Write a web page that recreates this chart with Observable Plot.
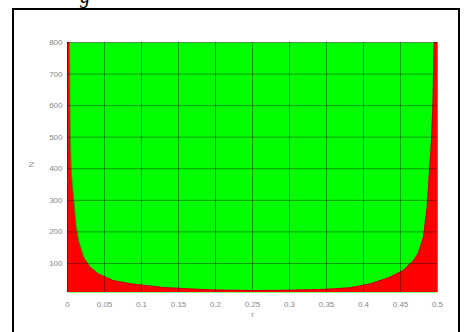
<!DOCTYPE html>
<html>
<head>
<meta charset="utf-8">
<script src="https://cdn.jsdelivr.net/npm/d3@7"></script>
<script src="https://cdn.jsdelivr.net/npm/@observablehq/plot@0.6"></script>
<style>
  html, body { margin: 0; padding: 0; background: #fff; }
  #wrap { position: relative; width: 467px; height: 332px; overflow: hidden; background: #fff; }
  #frame { position: absolute; left: 12px; top: 8px; width: 448px; height: 340px; border: 2px solid #000; box-sizing: border-box; }
  #cap { position: absolute; left: 80px; top: -15px; font: italic 20px "Liberation Serif", serif; color: #000; }
  #chart { position: absolute; left: 0; top: 0; }
</style>
</head>
<body>
<div id="wrap">
  <div id="cap">g</div>
  <div id="frame"></div>
  <div id="chart"></div>
</div>
<script>
const rValues = [0, 0.0027, 0.0035, 0.004, 0.0054, 0.0075, 0.0095, 0.012, 0.015, 0.022, 0.031, 0.042, 0.062, 0.085, 0.13, 0.176, 0.2, 0.25, 0.3, 0.35, 0.382, 0.409, 0.436, 0.454, 0.468, 0.474, 0.481, 0.486, 0.489, 0.492, 0.494, 0.4955, 0.5];
const nValues = [800, 800, 600, 490, 384, 330, 278, 215, 173, 120, 88, 67, 46, 36, 24, 18, 16, 14, 15, 18, 23, 35, 56, 78, 109, 131, 182, 277, 385, 490, 620, 800, 800];
const xTicks = [0, 0.05, 0.1, 0.15, 0.2, 0.25, 0.3, 0.35, 0.4, 0.45, 0.5];
const xTickLabels = ["0", "0.05", "0.1", "0.15", "0.2", "0.25", "0.3", "0.35", "0.4", "0.45", "0.5"];
const yTicks = [100, 200, 300, 400, 500, 600, 700, 800];
const xLabel = "r";
const yLabel = "N";

const data = rValues.map((r, i) => ({r, n: nValues[i]}));

const chart = Plot.plot({
  width: 467,
  height: 332,
  marginLeft: 67,
  marginRight: 30,
  marginTop: 42,
  marginBottom: 40,
  style: {background: "transparent", fontFamily: "Liberation Sans, Arial, sans-serif"},
  x: {domain: [0, 0.5]},
  y: {domain: [8, 800]},
  marks: [
    Plot.frame({fill: "#00ff00", stroke: "none"}),
    Plot.areaY(data, {x: "r", y: "n", fill: "#ff0000", clip: true, curve: "linear"}),
    Plot.lineY(data, {x: "r", y: "n", stroke: "#500", strokeOpacity: 0.35, strokeWidth: 1, clip: true}),
    Plot.ruleX(xTicks, {stroke: "#000", strokeOpacity: 0.4, strokeWidth: 1}),
    Plot.ruleY(yTicks, {stroke: "#000", strokeOpacity: 0.4, strokeWidth: 1}),
    Plot.axisX(xTicks, {tickSize: 0, tickPadding: 9, tickFormat: (d, i) => xTickLabels[i], fill: "#888", fontSize: 8, label: null}),
    Plot.axisY(yTicks, {tickSize: 0, tickPadding: 5, fill: "#888", fontSize: 8, label: null}),
    Plot.text([xLabel], {frameAnchor: "bottom", dy: 24, fill: "#888", fontSize: 8}),
    Plot.text([yLabel], {frameAnchor: "left", dx: -36, rotate: -90, fill: "#888", fontSize: 8})
  ]
});
document.getElementById("chart").appendChild(chart);
</script>
</body>
</html>
